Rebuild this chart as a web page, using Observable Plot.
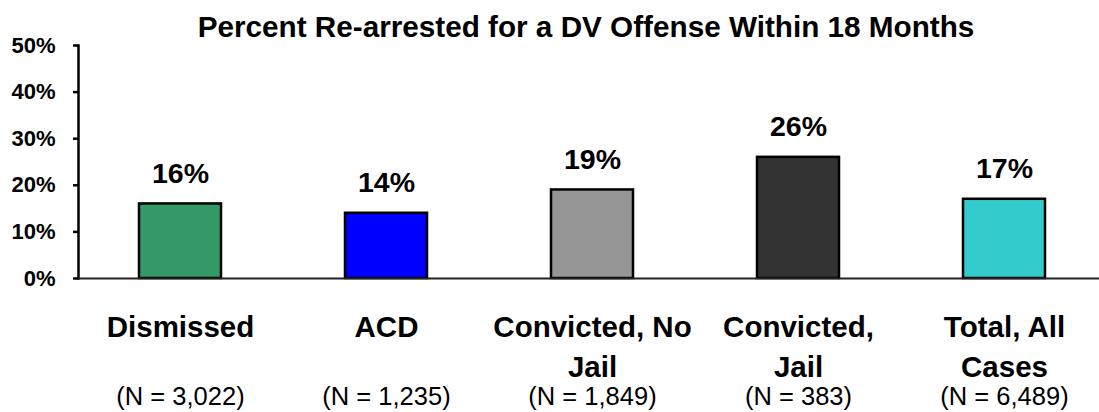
<!DOCTYPE html>
<html>
<head>
<meta charset="utf-8">
<script src="https://cdn.jsdelivr.net/npm/d3@7"></script>
<script src="https://cdn.jsdelivr.net/npm/@observablehq/plot@0.6"></script>
<style>
  html, body { margin: 0; padding: 0; background: #fff; }
  #chart svg { display: block; }
</style>
</head>
<body>
<div id="chart"></div>
<script>
const chartTitle = "Percent Re-arrested for a DV Offense Within 18 Months";
const categories = ["Dismissed", "ACD", "Convicted, No\nJail", "Convicted,\nJail", "Total, All\nCases"];
const rates = [16, 14, 19, 26, 17];
const nLabels = ["(N = 3,022)", "(N = 1,235)", "(N = 1,849)", "(N = 383)", "(N = 6,489)"];
const yTicks = [0, 10, 20, 30, 40, 50];
const barColors = ["#339966", "#0000FF", "#969696", "#333333", "#33CCCC"];

const data = categories.map((c, i) => ({category: c, rate: rates[i], n: nLabels[i]}));
const font = "Liberation Sans, Arial, Helvetica, sans-serif";

const chart = Plot.plot({
  width: 1099,
  height: 412,
  marginTop: 45,
  marginBottom: 134,
  marginLeft: 78,
  marginRight: 0,
  style: {fontFamily: font, background: "#fff", color: "#000"},
  x: {domain: categories, range: [76, 1108], paddingInner: 0.6, paddingOuter: 0.3, axis: null},
  y: {domain: [0, 50], axis: null},
  color: {domain: categories, range: barColors},
  marks: [
    Plot.frame({anchor: "left", stroke: "#000", strokeWidth: 2.5}),
    Plot.axisY({ticks: yTicks, tickFormat: d => d + "%", tickSize: 5, tickPadding: 18, label: null,
      strokeWidth: 2.5, fontSize: 22, fontWeight: "bold", fill: "#000", stroke: "#000"}),
    Plot.barY(data, {x: "category", y: "rate", fill: "category", stroke: "#000", strokeWidth: 2.5}),
    Plot.ruleY([0], {stroke: "#222", strokeWidth: 2}),
    Plot.text(data, {x: "category", y: "rate", text: d => d.rate + "%", dy: -21, lineAnchor: "bottom",
      fontSize: 28.5, fontWeight: "bold", fill: "#000"}),
    Plot.text(data, {x: "category", frameAnchor: "bottom", text: "category", lineAnchor: "top",
      dy: 30, lineHeight: 1.36, fontSize: 29.5, fontWeight: "bold", fill: "#000"}),
    Plot.text(data, {x: "category", frameAnchor: "bottom", text: "n", lineAnchor: "bottom",
      dy: 126, fontSize: 25.5, fill: "#000"}),
    Plot.text([chartTitle], {frameAnchor: "top", text: d => d, lineAnchor: "bottom", dy: -9, dx: -3,
      fontSize: 29.7, fontWeight: "bold", fill: "#000"})
  ]
});
document.getElementById("chart").appendChild(chart);
</script>
</body>
</html>
